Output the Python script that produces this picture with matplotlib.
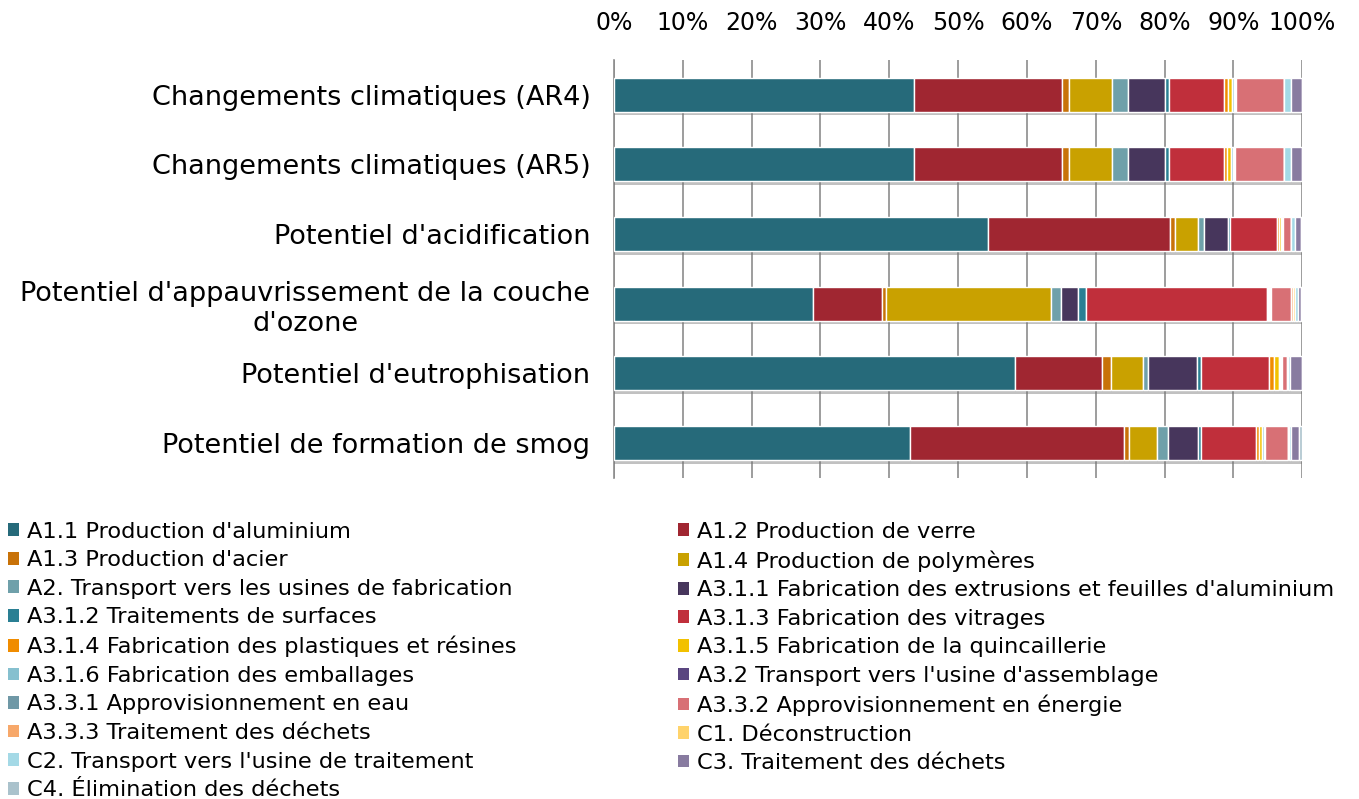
import numpy as np
import matplotlib
matplotlib.use('Agg')
import matplotlib.pyplot as plt
import matplotlib.patheffects as pe
from matplotlib.patches import Patch

plt.rcParams['font.family'] = ['DejaVu Sans']

categories = ["Changements climatiques (AR4)",
              "Changements climatiques (AR5)",
              "Potentiel d'acidification",
              "Potentiel d'appauvrissement de la couche\nd'ozone",
              "Potentiel d'eutrophisation",
              "Potentiel de formation de smog"]

stages = ["A1.1 Production d'aluminium", "A1.2 Production de verre",
          "A1.3 Production d'acier", "A1.4 Production de polymères",
          "A2. Transport vers les usines de fabrication",
          "A3.1.1 Fabrication des extrusions et feuilles d'aluminium",
          "A3.1.2 Traitements de surfaces", "A3.1.3 Fabrication des vitrages",
          "A3.1.4 Fabrication des plastiques et résines",
          "A3.1.5 Fabrication de la quincaillerie",
          "A3.1.6 Fabrication des emballages",
          "A3.2 Transport vers l'usine d'assemblage",
          "A3.3.1 Approvisionnement en eau",
          "A3.3.2 Approvisionnement en énergie",
          "A3.3.3 Traitement des déchets", "C1. Déconstruction",
          "C2. Transport vers l'usine de traitement",
          "C3. Traitement des déchets", "C4. Élimination des déchets"]

colors = ['#266a7a', '#a02631', '#c87208', '#c9a100', '#6fa0aa', '#47365c',
          '#2a7f93', '#c02f3b', '#f08c00', '#f2c100', '#86c0cf', '#5a4680',
          '#6f98a6', '#d87075', '#f7a86a', '#ffd36b', '#a4d9e6', '#887ba0',
          '#aac2cc']

# share of each stage (%), one list per indicator
ar4 = [43.6, 21.6, 1.0, 6.2, 2.4, 5.4, 0.6, 8.0, 0.5, 0.6, 0.3, 0.1, 0.15,
       7.0, 0.05, 0.05, 0.9, 1.6, 0.1]
ar5 = [43.5, 21.5, 0.9, 6.3, 2.3, 5.4, 0.6, 7.9, 0.5, 0.5, 0.4, 0.15, 0.15,
       7.0, 0.05, 0.05, 0.9, 1.6, 0.1]
acid = [54.3, 26.5, 0.7, 3.4, 0.9, 3.5, 0.3, 6.7, 0.3, 0.3, 0.15, 0.1, 0.1,
        1.1, 0.05, 0.05, 0.5, 0.9, 0.2]
ozone = [29.0, 10.1, 0.5, 24.0, 1.5, 2.5, 1.1, 26.4, 0.2, 0.15, 0.1, 0.1, 0.1,
         2.9, 0.3, 0.2, 0.4, 0.5, 0.2]
eutro = [58.3, 12.6, 1.3, 4.6, 0.7, 7.2, 0.5, 9.9, 0.7, 0.7, 0.25, 0.15, 0.15,
         0.7, 0.05, 0.05, 0.3, 1.7, 0.1]
smog = [43.1, 31.1, 0.7, 4.1, 1.6, 4.4, 0.3, 8.1, 0.4, 0.5, 0.2, 0.1, 0.1,
        3.3, 0.05, 0.05, 0.3, 1.2, 0.5]

data = np.array([ar4, ar5, acid, ozone, eutro, smog])
data = data / data.sum(axis=1, keepdims=True) * 100

fig = plt.figure(figsize=(13.59, 7.99), dpi=100)
ax = fig.add_axes([0.4518, 0.402, 0.5065, 0.523])

y = np.arange(len(categories))
left = np.zeros(len(categories))
for i, name in enumerate(stages):
    bars = ax.barh(y, data[:, i], left=left, height=0.49, color=colors[i],
                   edgecolor='white', linewidth=1.0, zorder=3)
    for b in bars:
        b.set_path_effects([pe.SimplePatchShadow(offset=(0, -2.5),
                                                 shadow_rgbFace='#777777',
                                                 alpha=0.45),
                            pe.Normal()])
    left += data[:, i]

ax.set_xlim(0, 100)
ax.set_ylim(len(categories) - 0.5, -0.5)
ax.set_xticks(np.arange(0, 101, 10))
ax.set_xticklabels([f'{v}%' for v in range(0, 101, 10)], fontsize=17)
ax.xaxis.tick_top()
ax.tick_params(axis='x', length=0, pad=18)
ax.tick_params(axis='y', length=0, pad=17)
ax.set_yticks(y)
ax.set_yticklabels(categories, fontsize=19.5, multialignment='center')
ax.grid(axis='x', color='#8c8c8c', linewidth=1.2, zorder=0)
for s in ['top', 'right', 'bottom']:
    ax.spines[s].set_visible(False)
ax.spines['left'].set_color('#8c8c8c')
ax.spines['left'].set_linewidth(1.2)

# legend is row-major in the original, matplotlib fills column first
handles = [Patch(facecolor=c, edgecolor='none') for c in colors]
order = list(range(0, len(stages), 2)) + list(range(1, len(stages), 2))
fig.legend([handles[k] for k in order], [stages[k] for k in order],
           ncol=2, loc='upper left', bbox_to_anchor=(-0.004, 0.364),
           frameon=False, fontsize=16.2, handlelength=0.5, handleheight=0.5,
           handletextpad=0.35, columnspacing=7.15, labelspacing=0.38,
           borderaxespad=0.2)

fig.savefig('out.png', dpi=100)
